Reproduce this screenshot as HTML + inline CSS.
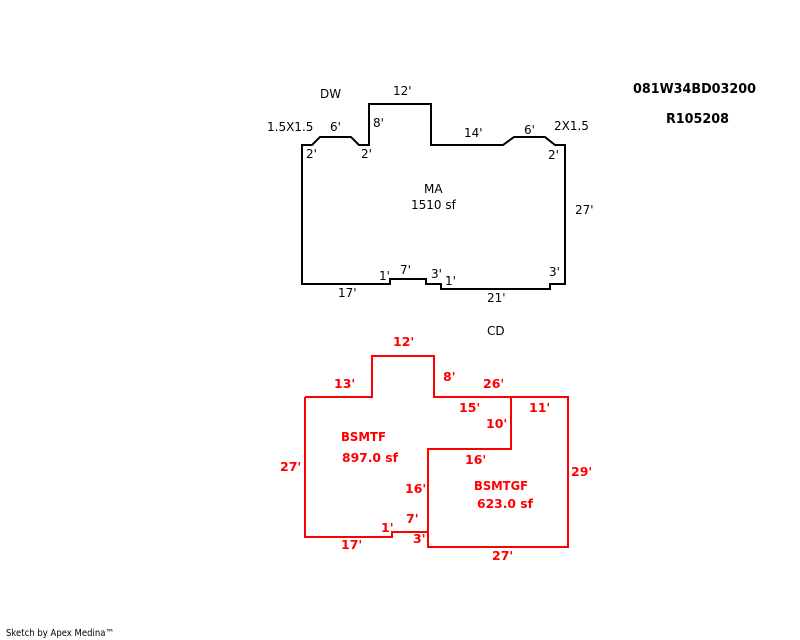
<!DOCTYPE html>
<html><head><meta charset="utf-8"><style>
html,body{margin:0;padding:0;background:#fff}
svg{display:block}
text{font-family:"DejaVu Sans","Liberation Sans",sans-serif;font-size:12px;fill:#000}
.r text{fill:#f00;font-weight:bold;font-size:12.5px}
.b{font-weight:bold;font-size:13px}
</style></head><body>
<svg width="800" height="640" viewBox="0 0 800 640" xmlns="http://www.w3.org/2000/svg">
<rect width="800" height="640" fill="#fff"/>
<g fill="none" stroke="#000" stroke-width="2" stroke-linejoin="miter">
<path d="M302 145H312L320 137H351L359 145H369V104H431V145H503L514 137H545L555 145H565V284H550V289H441V284H426V279H390V284H302Z"/>
</g>
<g fill="none" stroke="#f00" stroke-width="2">
<path d="M305 397H372V356H434V397H568V547H428V449H511V397"/>
<path d="M305 397V537H392V532H428"/>
</g>
<text x="320" y="98">DW</text>
<text x="393" y="95">12'</text>
<text class="b" x="633" y="93" textLength="123" lengthAdjust="spacingAndGlyphs">081W34BD03200</text>
<text class="b" x="666" y="123" textLength="63" lengthAdjust="spacingAndGlyphs">R105208</text>
<text x="267" y="131">1.5X1.5</text>
<text x="330" y="131">6'</text>
<text x="373" y="127">8'</text>
<text x="464" y="137">14'</text>
<text x="524" y="134">6'</text>
<text x="554" y="130">2X1.5</text>
<text x="306" y="158">2'</text>
<text x="361" y="158">2'</text>
<text x="548" y="159">2'</text>
<text x="424" y="193">MA</text>
<text x="411" y="209">1510 sf</text>
<text x="575" y="214">27'</text>
<text x="379" y="280">1'</text>
<text x="400" y="274">7'</text>
<text x="431" y="278">3'</text>
<text x="445" y="285">1'</text>
<text x="549" y="276">3'</text>
<text x="338" y="297">17'</text>
<text x="487" y="302">21'</text>
<text x="487" y="335">CD</text>
<g class="r">
<text x="393" y="346">12'</text>
<text x="334" y="388">13'</text>
<text x="443" y="381">8'</text>
<text x="483" y="388">26'</text>
<text x="459" y="412">15'</text>
<text x="529" y="412">11'</text>
<text x="486" y="428">10'</text>
<text x="341" y="441" textLength="45" lengthAdjust="spacingAndGlyphs">BSMTF</text>
<text x="342" y="462" textLength="56" lengthAdjust="spacingAndGlyphs">897.0 sf</text>
<text x="465" y="464">16'</text>
<text x="280" y="471">27'</text>
<text x="571" y="476">29'</text>
<text x="405" y="493">16'</text>
<text x="474" y="490" textLength="54" lengthAdjust="spacingAndGlyphs">BSMTGF</text>
<text x="477" y="508" textLength="56" lengthAdjust="spacingAndGlyphs">623.0 sf</text>
<text x="406" y="523">7'</text>
<text x="381" y="532">1'</text>
<text x="413" y="543">3'</text>
<text x="341" y="549">17'</text>
<text x="492" y="560">27'</text>
</g>
<text x="6" y="636" style="font-size:9.5px" textLength="108" lengthAdjust="spacingAndGlyphs">Sketch by Apex Medina™</text>
</svg>
</body></html>
